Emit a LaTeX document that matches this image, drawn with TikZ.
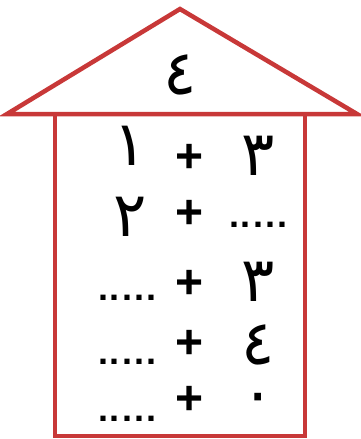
\documentclass[tikz,border=0pt]{standalone}
\usepackage{fontspec}
\setmainfont{Liberation Sans}
\newfontfamily\arabicfont[Script=Arabic]{DejaVu Sans}
\definecolor{housered}{RGB}{200,56,56}
\newcommand\gapdots{\makebox[62pt]{.\hfil.\hfil.\hfil.\hfil.}}
\begin{document}
\begin{tikzpicture}[x=1pt,y=-1pt,
  wall/.style={draw=housered,line width=4.5pt,line join=miter},
  digit/.style={font=\arabicfont\fontsize{62}{66}\selectfont,inner sep=0pt},
  plus/.style={font=\bfseries\fontsize{48}{52}\selectfont,inner sep=0pt},
  blank/.style={font=\bfseries\fontsize{36}{40}\selectfont,inner sep=0pt}]
\useasboundingbox (0,0) rectangle (361,439);
\draw[wall] (7,114) -- (180,9) -- (357,114) -- cycle;
\draw[wall] (55,114) rectangle (305,436);
\node[digit] (roof) at (180,75) {٤};
% row 1
\node[digit] (a1) at (130,146) {١};
\node[plus]  (p1) at (190,158) {+};
\node[digit] (b1) at (258,156) {٣};
% row 2
\node[digit] (a2) at (130,217) {٢};
\node[plus]  (p2) at (190,214) {+};
\node[blank] (b2) at (258,225) {\gapdots};
% row 3
\node[blank] (a3) at (127,298) {\gapdots};
\node[plus]  (p3) at (190,284) {+};
\node[digit] (b3) at (258,282) {٣};
% row 4
\node[blank] (a4) at (127,362) {\gapdots};
\node[plus]  (p4) at (190,344) {+};
\node[digit] (b4) at (258,345) {٤};
% row 5
\node[blank] (a5) at (127,419) {\gapdots};
\node[plus]  (p5) at (190,400) {+};
\node[digit] (b5) at (258,404) {٠};
\end{tikzpicture}
\end{document}
